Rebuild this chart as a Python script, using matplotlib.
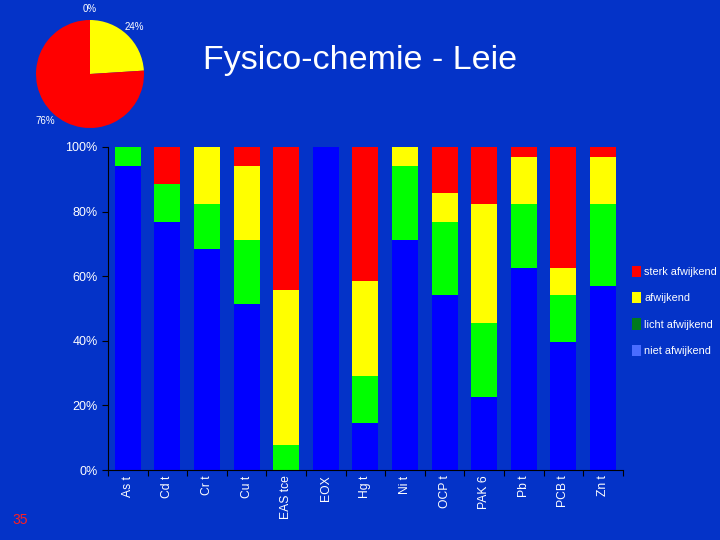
import matplotlib.pyplot as plt
from matplotlib.patches import Patch
import numpy as np

plt.rcParams["font.family"] = ["Liberation Sans", "DejaVu Sans"]

BG = "#0433c8"

# --- data ---
categories = ["As t", "Cd t", "Cr t", "Cu t", "EAS tce", "EOX", "Hg t",
              "Ni t", "OCP t", "PAK 6", "Pb t", "PCB t", "Zn t"]
niet = [94.0, 76.9, 68.5, 51.3, 0.0, 100.0, 14.5, 71.1, 54.1, 22.6, 62.5, 39.6, 56.9]
licht = [6.0, 11.6, 13.8, 19.8, 7.7, 0.0, 14.6, 22.9, 22.7, 22.8, 19.8, 14.5, 25.4]
afw = [0.0, 0.0, 17.7, 22.9, 48.0, 0.0, 29.4, 6.0, 9.0, 36.9, 14.5, 8.4, 14.5]
sterk = [0.0, 11.5, 0.0, 6.0, 44.3, 0.0, 41.5, 0.0, 14.2, 17.7, 3.2, 37.5, 3.2]

pie_values = [0, 24, 76]
pie_colors = ["#00ff00", "#ffff00", "#ff0000"]

legend_labels = ["sterk afwijkend", "afwijkend", "licht afwijkend", "niet afwijkend"]
legend_colors = ["#ff0000", "#ffff00", "#007a1e", "#4a6cff"]

fig = plt.figure(figsize=(7.2, 5.4), dpi=100, facecolor=BG)

# --- stacked bars ---
ax = fig.add_axes([0.15, 0.1296, 0.715, 0.5982], facecolor=BG)
x = np.arange(len(categories))
w = 0.66
bottom = np.zeros(len(categories))
for vals, col in [(niet, "#0000ff"), (licht, "#00ff00"),
                  (afw, "#ffff00"), (sterk, "#ff0000")]:
    ax.bar(x, vals, w, bottom=bottom, color=col, linewidth=0)
    bottom += np.array(vals)

ax.set_xlim(-0.5, len(categories) - 0.5)
ax.set_ylim(0, 100)
ax.set_yticks(np.arange(0, 101, 20))
ax.set_yticklabels([f"{v}%" for v in range(0, 101, 20)], color="white", fontsize=9)
ax.set_xticks(np.arange(-0.5, len(categories), 1), minor=False)
ax.set_xticklabels([])
ax.set_xticks(x, minor=True)
ax.set_xticklabels(categories, minor=True, rotation=90, color="white", fontsize=8.7)
ax.tick_params(axis="x", which="minor", length=0, pad=4)
ax.tick_params(axis="x", which="major", length=4, color="black", direction="out")
ax.tick_params(axis="y", length=4, color="black", direction="out")
for s in ["top", "right"]:
    ax.spines[s].set_visible(False)
for s in ["left", "bottom"]:
    ax.spines[s].set_color("black")
    ax.spines[s].set_linewidth(0.8)

# --- pie ---
pax = fig.add_axes([36 / 720, 1 - 128 / 540, 108 / 720, 108 / 540])
_, ptexts = pax.pie(pie_values, colors=pie_colors, startangle=90, counterclock=False,
                    labels=[f"{v}%" for v in pie_values], labeldistance=1.2,
                    textprops=dict(color="white", fontsize=7), radius=1.0)
for t in ptexts:
    t.set_ha("center")
    t.set_va("center")
pax.set_xlim(-1, 1)
pax.set_ylim(-1, 1)
pax.set_aspect("equal")

# --- title ---
fig.text(0.5, 0.888, "Fysico-chemie - Leie", color="white", fontsize=24.5,
         ha="center", va="center")

# --- legend ---
handles = [Patch(facecolor=c, edgecolor="none") for c in legend_colors]
leg = fig.legend(handles, legend_labels, loc="upper left",
                 bbox_to_anchor=(0.872, 0.516), frameon=False, fontsize=7.8,
                 labelspacing=1.4, handlelength=0.8, handleheight=1.2,
                 handletextpad=0.3, borderaxespad=0)
for t in leg.get_texts():
    t.set_color("white")

# page number
fig.text(0.028, 0.037, "35", color="#ff2020", fontsize=10, ha="center", va="center")

fig.savefig("out.png", dpi=100, facecolor=BG)
